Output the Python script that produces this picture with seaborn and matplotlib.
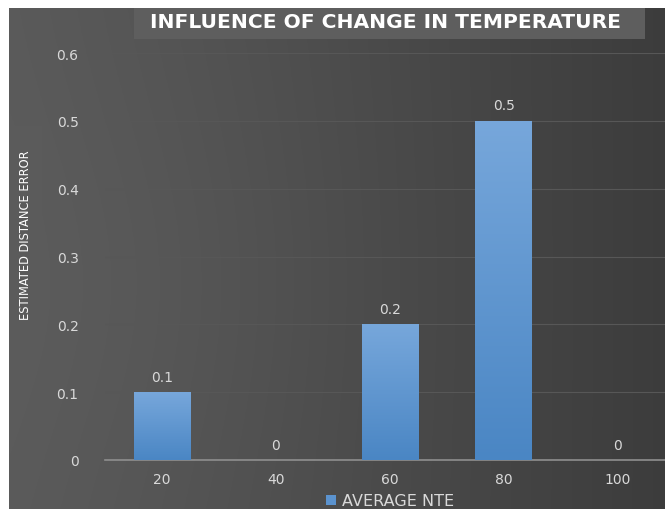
import numpy as np
import pandas as pd
import matplotlib
matplotlib.use("Agg")
import matplotlib.pyplot as plt
from matplotlib.colors import LinearSegmentedColormap
from matplotlib.patches import Rectangle, Patch
import seaborn as sns

# Temperature steps and the average estimated distance error at each one
temperatures = ["20", "40", "60", "80", "100"]
average_nte = [0.1, 0.0, 0.2, 0.5, 0.0]
value_labels = ["0.1", "0", "0.2", "0.5", "0"]
y_ticks = [0, 0.1, 0.2, 0.3, 0.4, 0.5, 0.6]
y_tick_labels = ["0", "0.1", "0.2", "0.3", "0.4", "0.5", "0.6"]

df = pd.DataFrame({"temperature": temperatures, "average_nte": average_nte})

sns.set_theme(style="dark")
plt.rcParams["font.family"] = ["DejaVu Sans"]

W, H = 665, 510
fig = plt.figure(figsize=(W / 100, H / 100), dpi=100)
fig.patch.set_facecolor("white")

# Dark chart-area backdrop with a soft lighter glow on the left
bg = fig.add_axes([9 / W, 0, 1 - 9 / W, 1 - 9 / H], zorder=0)
xx, yy = np.meshgrid(np.linspace(0, 1, 400), np.linspace(0, 1, 300))
shade = 0.352 - 0.115 * xx ** 1.1
glow = np.exp(-(((xx - 0.2) / 0.35) ** 2 + ((yy - 0.55) / 0.45) ** 2))
shade = shade + 0.012 * glow
bg.imshow(np.dstack([shade] * 3), aspect="auto", extent=[0, 1, 0, 1], origin="upper")
bg.set_axis_off()

# Title plate
fig.patches.append(Rectangle((134 / W, 1 - 40 / H), 511 / W, 31 / H,
                             transform=fig.transFigure, facecolor="#5e5e5e",
                             edgecolor="none", zorder=1))
fig.text(386 / W, 1 - 22.5 / H, "INFLUENCE OF CHANGE IN TEMPERATURE",
         ha="center", va="center", color="white", fontsize=14.6,
         fontweight="bold", zorder=2)

# Y-axis title plate
fig.patches.append(Rectangle((10 / W, 1 - 322 / H), 32 / W, 195 / H,
                             transform=fig.transFigure, facecolor="#5b5b5b",
                             edgecolor="none", zorder=1))
fig.text(26 / W, 1 - 235 / H, "ESTIMATED DISTANCE ERROR", rotation=90,
         ha="center", va="center", color="white", fontsize=9.2,
         fontstretch="condensed", zorder=2)

ax = fig.add_axes([105 / W, 1 - 461 / H, 570 / W, 407 / H], zorder=3)
ax.patch.set_alpha(0)

sns.barplot(data=df, x="temperature", y="average_nte", ax=ax, width=0.5,
            color="#5b93cf", saturation=1, edgecolor="none", linewidth=0,
            zorder=3)

# Vertical light-to-dark fill on every bar
bar_cmap = LinearSegmentedColormap.from_list("bar", ["#4a86c4", "#77a7db"])
grad = np.linspace(0, 1, 256).reshape(-1, 1)
for patch in ax.patches:
    x0, y0 = patch.get_x(), patch.get_y()
    w, h = patch.get_width(), patch.get_height()
    if h <= 0:
        continue
    im = ax.imshow(grad, cmap=bar_cmap, aspect="auto", origin="lower",
                   extent=[x0, x0 + w, y0, y0 + h], zorder=4)
    im.set_clip_path(patch)

for i, (v, lab) in enumerate(zip(average_nte, value_labels)):
    ax.annotate(lab, (i, v), xytext=(0, 6), textcoords="offset points",
                ha="center", va="bottom", color="#d9d9d9", fontsize=10)

ax.set_xlim(-0.5, 4.5)
ax.set_ylim(0, 0.6)
ax.set_yticks(y_ticks)
ax.set_yticklabels(y_tick_labels)
ax.set_xlabel("")
ax.set_ylabel("")
ax.grid(axis="y", color="#575757", linewidth=0.8, zorder=1)
ax.grid(axis="x", visible=False)
for s in ["top", "right", "left"]:
    ax.spines[s].set_visible(False)
ax.spines["bottom"].set_color("#8f8f8f")
ax.spines["bottom"].set_linewidth(1.2)
ax.tick_params(axis="y", length=0, pad=19, labelcolor="#d9d9d9", labelsize=10)
ax.tick_params(axis="x", length=0, pad=9, labelcolor="#d9d9d9", labelsize=10)

fig.legend(handles=[Patch(facecolor="#5b93cf", edgecolor="none")],
           labels=["AVERAGE NTE"], loc="center", bbox_to_anchor=(390 / W, 1 - 502 / H),
           frameon=False, fontsize=11.5, labelcolor="#d9d9d9",
           handlelength=0.65, handleheight=0.65, handletextpad=0.4)

fig.savefig("out.png", dpi=100, facecolor=fig.get_facecolor())
